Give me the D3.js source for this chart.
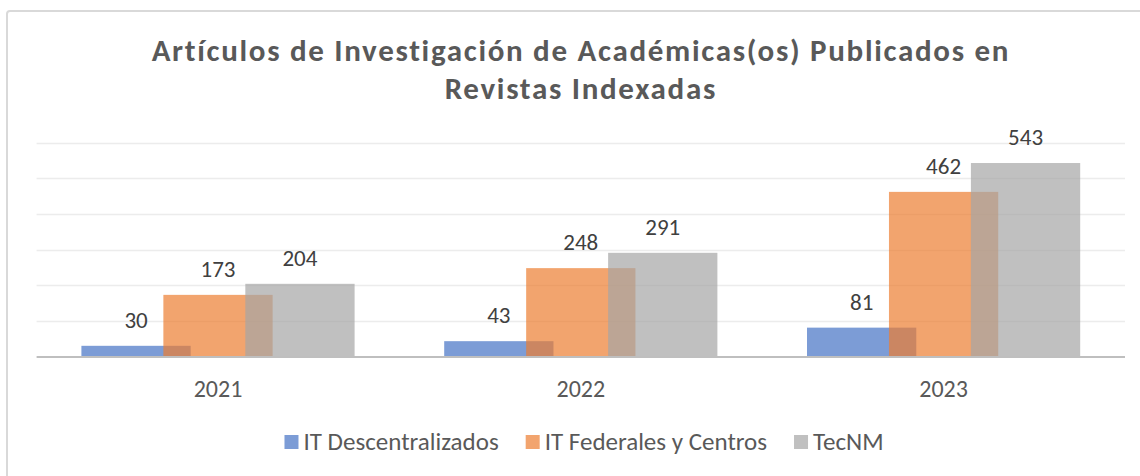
<!DOCTYPE html>
<html><head><meta charset="utf-8">
<script src="https://cdn.jsdelivr.net/npm/d3@7/dist/d3.min.js"></script>
<style>body{margin:0;background:#fff}svg{display:block}</style>
</head><body>
<svg id="chart" width="1140" height="476"></svg>
<script>
// ---- data ----
const years = ["2021", "2022", "2023"];
const seriesNames = ["IT Descentralizados", "IT Federales y Centros", "TecNM"];
const itDescentralizados = [30, 43, 81];
const itFederales = [173, 248, 462];
const tecNM = [204, 291, 543];
const gridTicks = [100, 200, 300, 400, 500, 600];
const titleLines = ["Artículos de Investigación de Académicas(os) Publicados en", "Revistas Indexadas"];

const seriesValues = [itDescentralizados, itFederales, tecNM];
const colors = ["#4472C4", "#ED7D31", "#A5A5A5"];
const FONT = "Carlito, Calibri, Lato, sans-serif";

const svg = d3.select("#chart");

// chart frame
svg.append("rect").attr("x", 7).attr("y", 11).attr("width", 1160).attr("height", 500)
  .attr("rx", 3).attr("fill", "#fff").attr("stroke", "#d9d9d9").attr("stroke-width", 2);

// scales
const x = d3.scaleBand().domain(years).range([36.6, 1125]).paddingInner(0).paddingOuter(0);
const y = d3.scaleLinear().domain([0, 600]).range([356.5, 142.7]);

const bw = x.bandwidth();
const gap = 0.82, overlap = 0.25;
const barW = bw / (3 - 2 * overlap + gap);
const step = barW * (1 - overlap);
const groupW = barW + 2 * step;
const seriesOffset = i => (bw - groupW) / 2 + i * step;

// gridlines
svg.append("g").selectAll("line").data(gridTicks).join("line")
  .attr("x1", x.range()[0]).attr("x2", x.range()[1])
  .attr("y1", d => Math.round(y(d)) + 0.5).attr("y2", d => Math.round(y(d)) + 0.5)
  .attr("stroke", "#ececec").attr("stroke-width", 1.3);

// bars
seriesValues.forEach((vals, si) => {
  svg.append("g").selectAll("rect").data(vals).join("rect")
    .attr("x", (d, i) => x(years[i]) + seriesOffset(si))
    .attr("y", d => y(d))
    .attr("width", barW)
    .attr("height", d => y(0) - y(d))
    .attr("fill", colors[si]).attr("fill-opacity", 0.7);
});

// axis line
svg.append("line").attr("x1", x.range()[0]).attr("x2", x.range()[1])
  .attr("y1", y(0) + 0.5).attr("y2", y(0) + 0.5)
  .attr("stroke", "#bfbfbf").attr("stroke-width", 2.2);

// data labels
seriesValues.forEach((vals, si) => {
  svg.append("g").selectAll("text").data(vals).join("text")
    .attr("x", (d, i) => x(years[i]) + seriesOffset(si) + barW / 2)
    .attr("y", d => y(d) - 18)
    .attr("text-anchor", "middle")
    .attr("font-family", FONT).attr("font-size", 23).attr("fill", "#404040")
    .text(d => d);
});

// category axis labels
const xAxis = d3.axisBottom(x).tickSize(0).tickPadding(0);
const gx = svg.append("g").attr("transform", `translate(0,${y(0)})`).call(xAxis);
gx.select(".domain").remove();
gx.selectAll("text").attr("font-family", FONT).attr("font-size", 24)
  .attr("fill", "#595959").attr("dy", 0).attr("y", 40);

// title
const t = svg.append("g");
const tl = t.selectAll("text").data(titleLines).join("text")
  .attr("x", 580).attr("y", (d, i) => 61 + i * 37.5)
  .attr("text-anchor", "middle")
  .attr("font-family", FONT).attr("font-weight", "bold").attr("font-size", 31)
  .attr("fill", "#595959").text(d => d);
const natural = tl.nodes()[0].getComputedTextLength();
const ls = (858 - natural) / (titleLines[0].length);
tl.attr("letter-spacing", ls + "px").attr("x", 580 + ls / 2);

// legend
const leg = svg.append("g");
const items = leg.selectAll("g").data(seriesNames).join("g");
items.append("rect").attr("width", 14).attr("height", 14).attr("y", -7)
  .attr("fill", (d, i) => colors[i]).attr("fill-opacity", 0.7);
items.append("text").attr("x", 19).attr("y", 8)
  .attr("font-family", FONT).attr("font-size", 25).attr("fill", "#595959").text(d => d);
let cx = 0;
items.each(function () {
  d3.select(this).attr("transform", `translate(${cx},0)`);
  cx += 19 + d3.select(this).select("text").node().getComputedTextLength() + 27;
});
const totalW = cx - 27;
leg.attr("transform", `translate(${584 - totalW / 2},442)`);
</script>
</body></html>
